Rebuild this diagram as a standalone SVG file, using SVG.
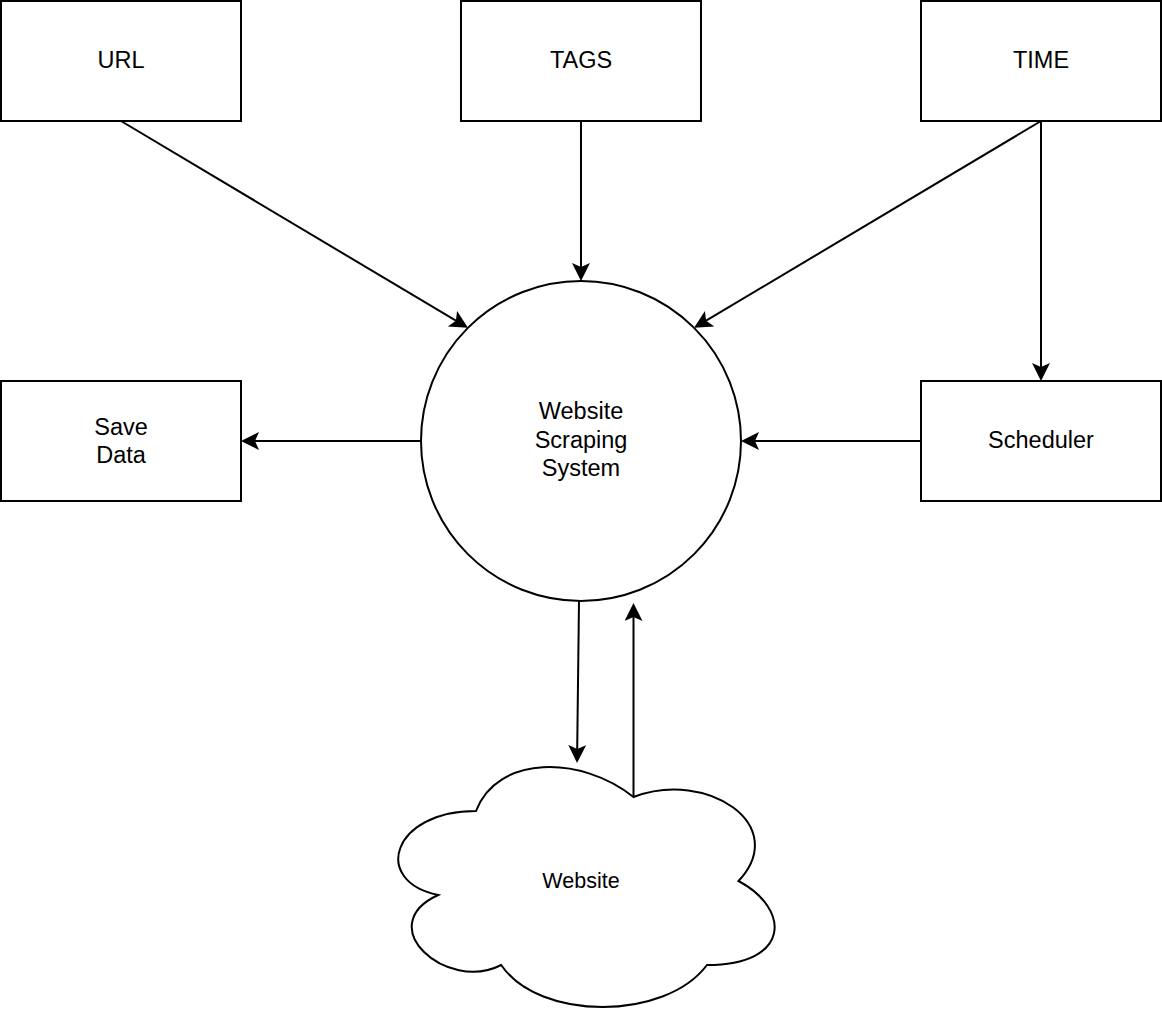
<svg xmlns="http://www.w3.org/2000/svg" width="1162" height="1022" viewBox="0 0 1162 1022">
  <style>
    .shape { fill: #ffffff; stroke: #000000; stroke-width: 2; }
    .edge { fill: none; stroke: #000000; stroke-width: 2; marker-end: url(#arrow); }
    .label { font-family: "Liberation Sans", Arial, sans-serif; font-size: 23.5px; fill: #000000; text-anchor: middle; }
    .small { font-size: 21.5px; }
  </style>
  <defs>
    <!-- classic arrowhead; reference point sits at the notch -->
    <marker id="arrow" markerUnits="userSpaceOnUse" markerWidth="20" markerHeight="20" refX="4" refY="9" orient="auto">
      <path d="M18,9 L0,0 L4,9 L0,18 Z" fill="#000000"/>
    </marker>
  </defs>
  <rect width="1162" height="1022" fill="#ffffff"/>

  <g id="connectors">
    <line class="edge" x1="121" y1="121" x2="455.9" y2="320.7"/>
    <line class="edge" x1="581" y1="121" x2="581" y2="267"/>
    <line class="edge" x1="1041" y1="121" x2="706.1" y2="320.7"/>
    <line class="edge" x1="1041" y1="121" x2="1041" y2="367"/>
    <line class="edge" x1="921" y1="441" x2="755" y2="441"/>
    <line class="edge" x1="421" y1="441" x2="255" y2="441"/>
    <line class="edge" x1="579" y1="601" x2="577.2" y2="749"/>
    <line class="edge" x1="633.5" y1="797" x2="633.5" y2="617"/>
  </g>

  <g id="url">
    <rect class="shape" x="1" y="1" width="240" height="120"/>
    <text class="label" x="121" y="67.5">URL</text>
  </g>
  <g id="tags">
    <rect class="shape" x="461" y="1" width="240" height="120"/>
    <text class="label" x="581" y="67.5">TAGS</text>
  </g>
  <g id="time">
    <rect class="shape" x="921" y="1" width="240" height="120"/>
    <text class="label" x="1041" y="67.5">TIME</text>
  </g>
  <g id="save-data">
    <rect class="shape" x="1" y="381" width="240" height="120"/>
    <text class="label" x="121" y="434.5">Save</text>
    <text class="label" x="121" y="463">Data</text>
  </g>
  <g id="scheduler">
    <rect class="shape" x="921" y="381" width="240" height="120"/>
    <text class="label" x="1041" y="447.5">Scheduler</text>
  </g>
  <g id="scraping-system">
    <circle class="shape" cx="581" cy="441" r="160"/>
    <text class="label" x="581" y="419">Website</text>
    <text class="label" x="581" y="447.5">Scraping</text>
    <text class="label" x="581" y="476">System</text>
  </g>
  <g id="website">
    <path class="shape" d="M476,811 C392,811 371,881 438.2,895 C371,925.8 446.6,993 501.2,965 C539,1021 665,1021 707,965 C791,965 791,909 738.5,881 C791,825 707,769 633.5,797 C581,755 497,755 476,811 Z"/>
    <text class="label small" x="581" y="887.5">Website</text>
  </g>
</svg>
